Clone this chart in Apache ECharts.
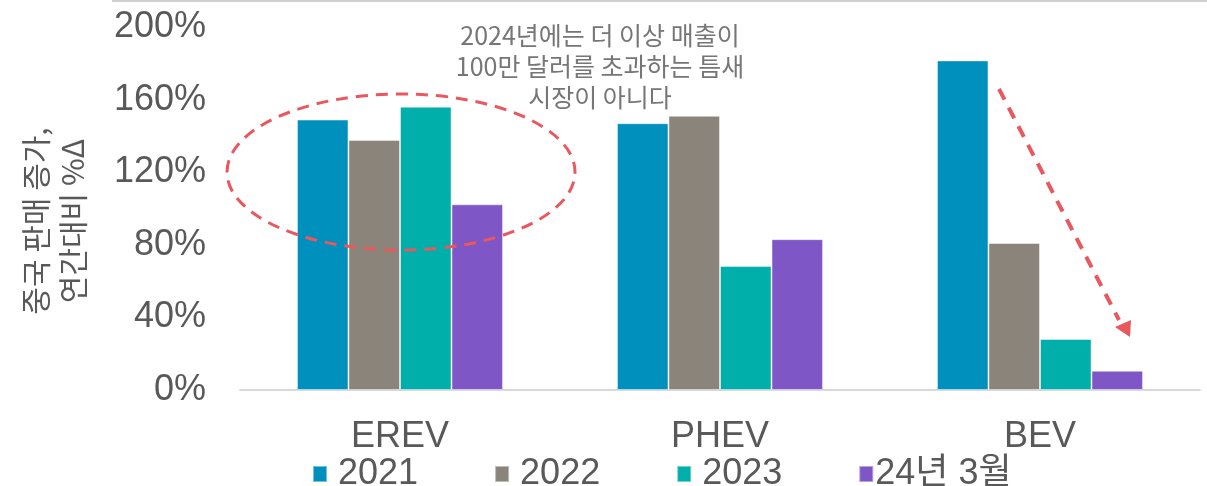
<!DOCTYPE html>
<html><head><meta charset="utf-8">
<script src="https://cdn.jsdelivr.net/npm/echarts@6/dist/echarts.min.js"></script>
<style>html,body{margin:0;padding:0;background:#fff}#c{width:1207px;height:486px}</style>
</head><body><div id="c"></div>
<script>
const categories = ['EREV', 'PHEV', 'BEV'];
const s2021 = [149, 147, 181.6];
const s2022 = [137.8, 151.1, 81];
const s2023 = [156.1, 68.3, 28.1];
const s2024m3 = [102.3, 83.1, 10.6];
const seriesNames = ['2021', '2022', '2023', '24년 3월'];
const colors = ['#0090BE', '#8B847A', '#00AFAA', '#7F56C5'];
const yTicks = [0, 40, 80, 120, 160, 200];
const yTitle = '중국 판매 증가,\n연간대비 %Δ';
const note = '2024년에는 더 이상 매출이\n100만 달러를 초과하는 틈새\n시장이 아니다';

const chart = echarts.init(document.getElementById('c'));
const data = [s2021, s2022, s2023, s2024m3];
const red = '#E8585E';
chart.setOption({
  animation: false,
  backgroundColor: '#fff',
  grid: {left: 240, right: 7, top: 27, bottom: 96, containLabel: false},
  xAxis: {
    type: 'category', data: categories,
    axisLine: {show: true, lineStyle: {color: '#d9d9d9', width: 2}},
    axisTick: {show: false},
    axisLabel: {fontFamily: 'Liberation Sans', fontSize: 36, color: '#595959', margin: 29}
  },
  yAxis: {
    type: 'value', min: yTicks[0], max: yTicks[yTicks.length - 1], interval: 40,
    axisLine: {show: false}, axisTick: {show: false}, splitLine: {show: false},
    axisLabel: {formatter: '{value}%', fontFamily: 'Liberation Sans', fontSize: 36, color: '#595959', margin: 34}
  },
  legend: {
    left: 307, top: 451, itemWidth: 14, itemHeight: 16, itemGap: 76,
    icon: 'rect',
    textStyle: {fontFamily: 'Liberation Sans, Noto Sans CJK KR', fontSize: 36, color: '#595959', padding: [0, 0, 0, 6]},
    data: seriesNames.map((n, i) => i === 3
      ? {name: n, textStyle: {padding: [0, 0, 0, -3]}}
      : {name: n})
  },
  series: seriesNames.map((n, i) => ({
    name: n, type: 'bar', data: data[i],
    barGap: '0%', barCategoryGap: '35.6%',
    itemStyle: {color: colors[i], borderColor: 'rgba(255,255,255,0.45)', borderWidth: 1}
  })),
  graphic: [
    {type: 'line', shape: {x1: 112, y1: 1, x2: 1207, y2: 1}, style: {stroke: '#d0d0d0', lineWidth: 2}, silent: true},
    {type: 'text', x: 54, y: 221, rotation: Math.PI / 2,
     style: {text: yTitle, fontFamily: 'Noto Sans CJK KR', fontSize: 30, lineHeight: 37, fill: '#595959', textAlign: 'center', textVerticalAlign: 'middle'}},
    {type: 'text', x: 600, y: 66,
     style: {text: note, fontFamily: 'Noto Sans CJK KR', fontSize: 25, lineHeight: 31, fill: '#767676', textAlign: 'center', textVerticalAlign: 'middle'}},
    {type: 'ellipse', shape: {cx: 401, cy: 172, rx: 174, ry: 78}, z: 100,
     style: {fill: 'none', stroke: red, lineWidth: 3, lineDash: [12, 8]}},
    {type: 'line', shape: {x1: 999, y1: 89, x2: 1119, y2: 320}, z: 100,
     style: {stroke: red, lineWidth: 4, lineDash: [12, 9]}},
    {type: 'polygon', shape: {points: [[1130, 337], [1115, 327], [1131, 320]]}, z: 100,
     style: {fill: red}}
  ]
});
</script></body></html>
